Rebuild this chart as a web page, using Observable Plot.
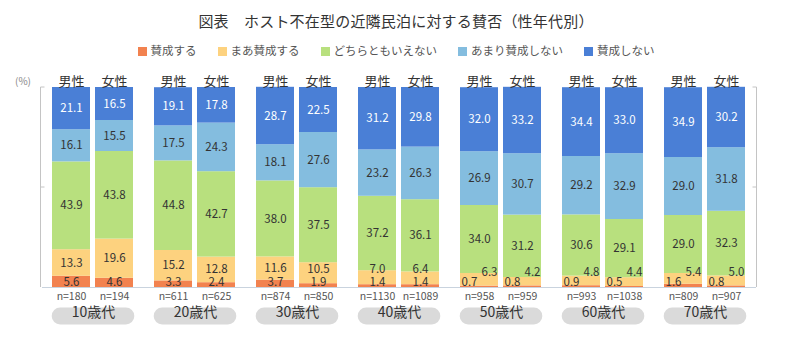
<!DOCTYPE html>
<html><head><meta charset="utf-8">
<script src="https://cdn.jsdelivr.net/npm/d3@7"></script>
<script src="https://cdn.jsdelivr.net/npm/@observablehq/plot@0.6"></script>
<style>
body{margin:0;background:#fff;font-family:"Noto Sans CJK JP","Noto Sans",sans-serif;}
#wrap{position:relative;width:800px;height:351px;overflow:hidden;}
#chart{position:absolute;top:0;left:0;}
#title{position:absolute;top:10px;left:0;width:792px;text-align:center;font-size:15px;color:#333;letter-spacing:0.2px;}
#legend{position:absolute;top:42px;left:0;width:792px;display:flex;justify-content:center;gap:21px;font-size:11.5px;color:#555;}
.sw{display:inline-block;width:9px;height:9px;margin-right:4px;vertical-align:-1px;}
#pct{position:absolute;left:15px;top:73px;font-size:10px;color:#888;}
</style></head><body>
<div id="wrap">
<div id="chart"></div>
<div id="title">図表　ホスト不在型の近隣民泊に対する賛否（性年代別）</div>
<div id="legend"></div>
<div id="pct">(%)</div>
</div>
<script>
const ages = ["10歳代","20歳代","30歳代","40歳代","50歳代","60歳代","70歳代"];
const sexes = ["男性","女性"];
const categories = ["賛成する","まあ賛成する","どちらともいえない","あまり賛成しない","賛成しない"];
const colors = ["#f2824f","#fdd27f","#b8e07e","#84bddf","#4a7fd6"];
// bar order: 10男,10女,20男,20女,...
const nCounts = [180,194,611,625,874,850,1130,1089,958,959,993,1038,809,907];
const agree      = [5.6,4.6,3.3,2.4,3.7,1.9,1.4,1.4,0.7,0.8,0.9,0.5,1.6,0.8];
const someAgree  = [13.3,19.6,15.2,12.8,11.6,10.5,7.0,6.4,6.3,4.2,4.8,4.4,5.4,5.0];
const neutral    = [43.9,43.8,44.8,42.7,38.0,37.5,37.2,36.1,34.0,31.2,30.6,29.1,29.0,32.3];
const notMuch    = [16.1,15.5,17.5,24.3,18.1,27.6,23.2,26.3,26.9,30.7,29.2,32.9,29.0,31.8];
const disagree   = [21.1,16.5,19.1,17.8,28.7,22.5,31.2,29.8,32.0,33.2,34.4,33.0,34.9,30.2];
const series = [agree, someAgree, neutral, notMuch, disagree];

const bars = nCounts.map((n, i) => ({age: ages[Math.floor(i / 2)], sex: sexes[i % 2], n}));
const rows = [];
const labels = [];
bars.forEach((b, i) => {
  const v = series.map(s => s[i]);
  let cum = 0;
  const small = v[0] + v[1] < 7.5;
  v.forEach((val, k) => {
    rows.push({age: b.age, sex: b.sex, cat: categories[k], value: val});
    let ly = cum + val / 2, shift = 0;
    if (k === 0) { if (small) { ly = 2.5; shift = -1; } else ly = Math.max(ly, 2.8); }
    if (k === 1) { if (small) { ly = 7.5; shift = 1; } else ly = Math.max(ly, 9); }
    labels.push({age: b.age, sex: b.sex, y: ly, shift, text: val.toFixed(1), white: k === 4});
    cum += val;
  });
});

// legend
const lg = document.getElementById("legend");
categories.forEach((c, k) => {
  const s = document.createElement("span");
  s.innerHTML = `<span class="sw" style="background:${colors[k]}"></span>${c}`;
  lg.appendChild(s);
});

const mL = 40, mR = 43, mT = 87, mB = 64;
const font = "Noto Sans CJK JP";
const labelMark = (shift, dx) => Plot.text(labels.filter(d => d.shift === shift), {
  fx: "age", x: "sex", y: "y", dx, text: "text",
  fill: d => d.white ? "#ffffff" : "#333333", fontSize: 11.5});
const plot = Plot.plot({
  width: 800, height: 351,
  marginLeft: mL, marginRight: mR, marginTop: mT, marginBottom: mB,
  style: {fontFamily: font, background: "transparent", overflow: "visible"},
  fx: {domain: ages, axis: null, padding: 0},
  x: {domain: sexes, axis: null, paddingInner: 0.114, paddingOuter: 0.22},
  y: {domain: [0, 100], axis: null},
  color: {domain: categories, range: colors},
  marks: [
    Plot.barY(rows, {fx: "age", x: "sex", y: "value", fill: "cat", order: categories}),
    Plot.ruleY([0], {stroke: "#c9d3de", strokeWidth: 1}),
    labelMark(0, 0),
    labelMark(-1, -10),
    labelMark(1, 10),
    Plot.text(bars, {fx: "age", x: "sex", text: "sex", frameAnchor: "top", dy: -11, fontSize: 13, fill: "#333"}),
    Plot.text(bars, {fx: "age", x: "sex", text: d => "n=" + d.n, frameAnchor: "bottom", dy: 12, fontSize: 10.5, fill: "#555"}),
    Plot.barY(ages, {fx: d => d, y1: 0, y2: 0, insetTop: -8.5, insetBottom: -8.5,
      insetLeft: 9.7, insetRight: 9.7, rx: 8.5, dy: 29, fill: "#dadada"}),
    Plot.text(ages, {fx: d => d, text: d => d, frameAnchor: "bottom", dy: 29, fontSize: 14, fill: "#333"})
  ]
});
document.getElementById("chart").appendChild(plot);

// axis frame lines
const ys = plot.scale("y");
const svg = d3.select(plot);
const g = svg.append("g").attr("stroke", "#c4c4c4").attr("fill", "none");
const xl = mL + 0.5, xr = 800 - mR - 0.5;
const yTop = ys.apply(100), yBot = ys.apply(0), yMid = ys.apply(50);
g.append("line").attr("x1", xl).attr("x2", xl).attr("y1", yTop).attr("y2", yBot);
g.append("line").attr("x1", xr).attr("x2", xr).attr("y1", yTop).attr("y2", yBot);
[yTop, yMid].forEach(yy => {
  g.append("line").attr("x1", xl).attr("x2", xl + 4).attr("y1", yy).attr("y2", yy);
  g.append("line").attr("x1", xr - 4).attr("x2", xr).attr("y1", yy).attr("y2", yy);
});
</script>
</body></html>
